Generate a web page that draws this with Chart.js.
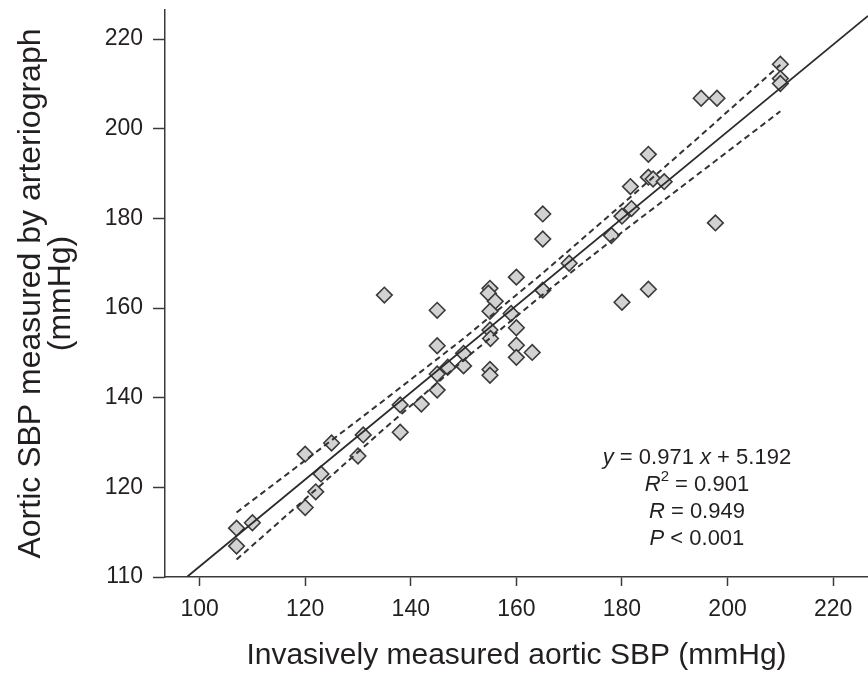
<!DOCTYPE html>
<html>
<head>
<meta charset="utf-8">
<script src="https://cdn.jsdelivr.net/npm/chart.js@4"></script>
<style>
  html, body { margin: 0; padding: 0; background: #fff; }
  #wrap { width: 868px; height: 677px; position: relative; }
</style>
</head>
<body>
<div id="wrap"><canvas id="chart"></canvas></div>
<script>
// Invasive vs arteriograph aortic SBP (mmHg)
const obsX = [107, 107, 110, 120, 120, 122, 123, 125, 130, 131,
              135, 138, 138, 142, 145, 145, 145, 145, 147, 150,
              150, 155, 154.7, 156, 155, 159, 160, 155, 155.1, 160,
              160, 160, 163, 155, 155, 165, 165, 165, 170, 178,
              180, 180, 181.6, 181.8, 185, 185, 185.9, 188, 185, 195,
              198, 197.7, 210, 210, 210];
const obsY = [106.9, 110.9, 112.1, 127.4, 115.5, 119.0, 123.0, 129.9, 127.0, 131.7,
              162.9, 138.4, 132.3, 138.6, 159.5, 151.6, 145.3, 141.7, 146.8, 147.1,
              149.9, 164.4, 163.3, 161.5, 159.3, 158.8, 166.9, 155.1, 153.2, 155.6,
              151.7, 149.0, 150.1, 146.3, 145.0, 181.0, 175.4, 164.0, 170.0, 176.2,
              180.5, 161.3, 187.1, 182.2, 194.3, 189.2, 188.8, 188.2, 164.2, 206.8,
              206.8, 179.0, 214.4, 211.2, 210.1];

// regression line y = 0.971x + 5.192 (ends where it leaves the plot)
const fitX = [97.7, 226.6];
const fitY = [100.1, 225.2];

// dashed confidence band
const bandX = [107, 120, 135, 150, 165, 180, 195, 210];
const bandUpper = [114.4, 126.0, 139.5, 153.2, 167.8, 183.1, 198.6, 214.3];
const bandLower = [103.9, 117.4, 133.1, 148.4, 163.0, 176.9, 190.4, 203.9];

const xTickValues = [100, 120, 140, 160, 180, 200, 220];
const yTickValues = [100, 120, 140, 160, 180, 200, 220];
const yTickLabels = ['110', '120', '140', '160', '180', '200', '220'];

const statLines = [
    [{ t: 'y', i: true }, { t: ' = 0.971 ' }, { t: 'x', i: true }, { t: ' + 5.192' }],
    [{ t: 'R', i: true }, { t: '2', sup: true }, { t: ' = 0.901' }],
    [{ t: 'R', i: true }, { t: ' = 0.949' }],
    [{ t: 'P', i: true }, { t: ' < 0.001' }],
];

const INK = '#231f20';
const AXIS = '#3a3a3a';
const FONT = "'Liberation Sans', Arial, Helvetica, sans-serif";

const toXY = (xs, ys) => xs.map((x, i) => ({ x, y: ys[i] }));

// draws the regression summary block
const statsPlugin = {
    id: 'stats',
    afterDatasetsDraw(chart) {
        const { ctx, scales } = chart;
        const cx = scales.x.getPixelForValue(194.2);
        let y = scales.y.getPixelForValue(126.5);
        const size = 22;
        ctx.save();
        ctx.fillStyle = INK;
        ctx.textBaseline = 'middle';
        ctx.textAlign = 'left';
        statLines.forEach(line => {
            const parts = line.map(p => {
                const fs = p.sup ? Math.round(size * 0.7) : size;
                const font = (p.i ? 'italic ' : '') + fs + 'px ' + FONT;
                ctx.font = font;
                return { ...p, font, w: ctx.measureText(p.t).width };
            });
            const total = parts.reduce((s, p) => s + p.w, 0);
            let x = cx - total / 2;
            parts.forEach(p => {
                ctx.font = p.font;
                ctx.fillText(p.t, x, p.sup ? y - 8 : y);
                x += p.w;
            });
            y += 27;
        });
        ctx.restore();
    }
};

new Chart(document.getElementById('chart'), {
    type: 'scatter',
    data: {
        datasets: [
            {
                label: 'fit',
                data: toXY(fitX, fitY),
                showLine: true,
                borderColor: '#2b2b2b',
                borderWidth: 1.8,
                pointRadius: 0,
                order: 1,
            },
            {
                label: 'upper',
                data: toXY(bandX, bandUpper),
                showLine: true,
                borderColor: '#333',
                borderWidth: 2,
                borderDash: [6, 4],
                pointRadius: 0,
                order: 2,
            },
            {
                label: 'lower',
                data: toXY(bandX, bandLower),
                showLine: true,
                borderColor: '#333',
                borderWidth: 2,
                borderDash: [6, 4],
                pointRadius: 0,
                order: 3,
            },
            {
                label: 'patients',
                data: toXY(obsX, obsY),
                pointStyle: 'rectRot',
                pointRadius: 7.8,
                backgroundColor: '#d2d2d2',
                borderColor: '#3a3a3a',
                borderWidth: 1.6,
                order: 4,
            },
        ],
    },
    options: {
        responsive: true,
        maintainAspectRatio: false,
        animation: false,
        events: [],
        layout: { autoPadding: false, padding: { top: 10, right: 0, left: 0, bottom: 0 } },
        plugins: {
            legend: { display: false },
            tooltip: { enabled: false },
        },
        scales: {
            x: {
                type: 'linear',
                min: 93.45,
                max: 226.6,
                afterBuildTicks: s => { s.ticks = xTickValues.map(v => ({ value: v })); },
                afterFit: s => {
                    s.height = 100;
                    s.paddingLeft = 0;
                    s.paddingRight = 0;
                },
                ticks: {
                    color: INK,
                    font: { family: FONT, size: 23 },
                    padding: 10,
                    maxRotation: 0,
                },
                grid: {
                    drawOnChartArea: false,
                    drawTicks: true,
                    tickLength: 9,
                    tickColor: AXIS,
                    tickWidth: 1.5,
                },
                border: { display: true, color: AXIS, width: 1.5 },
                title: {
                    display: true,
                    text: 'Invasively measured aortic SBP (mmHg)',
                    color: INK,
                    font: { family: FONT, size: 30 },
                    padding: { bottom: 3 },
                },
            },
            y: {
                type: 'linear',
                min: 100,
                max: 226.5,
                afterBuildTicks: s => { s.ticks = yTickValues.map(v => ({ value: v })); },
                afterFit: s => {
                    s.width = 165;
                    s.paddingTop = 0;
                    s.paddingBottom = 0;
                },
                ticks: {
                    color: INK,
                    font: { family: FONT, size: 23 },
                    padding: 10,
                    callback: v => yTickLabels[yTickValues.indexOf(v)],
                },
                grid: {
                    drawOnChartArea: false,
                    drawTicks: true,
                    tickLength: 12,
                    tickColor: AXIS,
                    tickWidth: 1.5,
                },
                border: { display: true, color: AXIS, width: 1.5 },
                title: {
                    display: true,
                    text: ['Aortic SBP measured by arteriograph', '(mmHg)'],
                    color: INK,
                    font: { family: FONT, size: 32, lineHeight: 0.95 },
                    padding: { top: 16 },
                },
            },
        },
    },
    plugins: [statsPlugin],
});
</script>
</body>
</html>
